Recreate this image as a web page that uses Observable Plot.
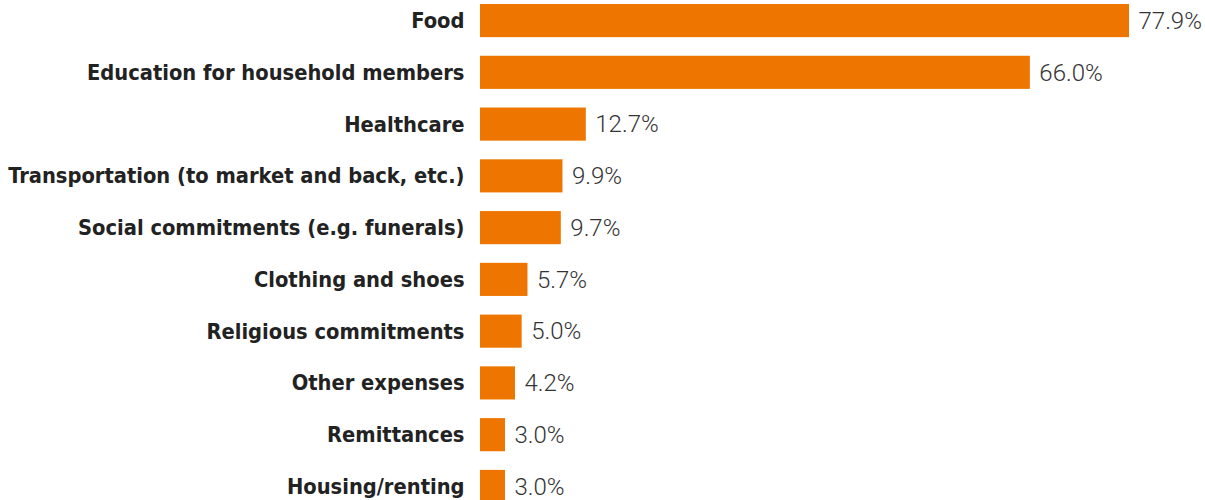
<!DOCTYPE html>
<html><head><meta charset="utf-8">
<script src="https://cdn.jsdelivr.net/npm/d3@7"></script>
<script src="https://cdn.jsdelivr.net/npm/@observablehq/plot@0.6"></script>
<style>body{margin:0;background:#fff;overflow:hidden}</style>
</head><body><div id="chart"></div>
<script>
const categories = [
  "Food",
  "Education for household members",
  "Healthcare",
  "Transportation (to market and back, etc.)",
  "Social commitments (e.g. funerals)",
  "Clothing and shoes",
  "Religious commitments",
  "Other expenses",
  "Remittances",
  "Housing/renting"
];
const values = [77.9, 66.0, 12.7, 9.9, 9.7, 5.7, 5.0, 4.2, 3.0, 3.0];
const data = categories.map((c, i) => ({category: c, value: values[i]}));

const chart = Plot.plot({
  width: 1205,
  height: 503,
  marginTop: 4,
  marginBottom: 0,
  marginLeft: 480,
  marginRight: 76,
  style: {fontFamily: "'DejaVu Sans Condensed', Roboto, sans-serif", color: "#222", background: "#fff"},
  x: {domain: [0, 77.9], axis: null},
  y: {domain: categories, paddingInner: 0.36, paddingOuter: 0, round: false, label: null, axis: null},
  marks: [
    Plot.barX(data, {x: "value", y: "category", fill: "#EE7600"}),
    Plot.text(data, {x: "value", y: "category", text: d => d.value.toFixed(1) + "%", textAnchor: "start", dx: 9, fontSize: 24, fontWeight: 300, fill: "#333", fontFamily: "Roboto, sans-serif"}),
    Plot.axisY({tickSize: 0, tickPadding: 16, fontSize: 21.7, fontWeight: "bold", label: null})
  ]
});
document.getElementById("chart").append(chart);
</script>
</body></html>
